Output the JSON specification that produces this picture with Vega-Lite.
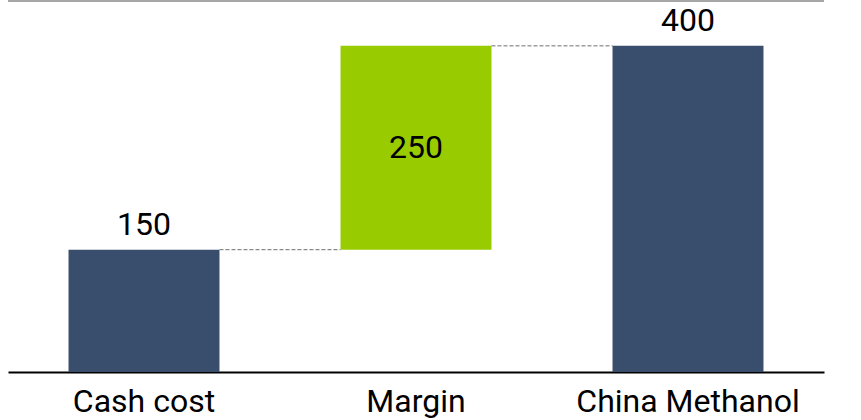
{
  "$schema": "https://vega.github.io/schema/vega-lite/v6.json",
  "width": 816,
  "height": 371,
  "autosize": {"type": "none"},
  "padding": {"left": 8, "top": 1, "right": 37, "bottom": 48},
  "background": "white",
  "config": {
    "view": {"stroke": null},
    "font": "Roboto",
    "axisX": {
      "labelFontSize": 32,
      "labelColor": "#000000",
      "labelFont": "Roboto",
      "labelLimit": 0,
      "ticks": false,
      "domainColor": "#000000",
      "domainWidth": 2,
      "labelPadding": 14,
      "labelAngle": 0,
      "grid": false
    }
  },
  "datasets": {
    "steps": [
      {"cat": "Cash cost", "start": 0, "end": 150, "type": "total", "label": "150"},
      {"cat": "Margin", "start": 150, "end": 400, "type": "delta", "label": "250"},
      {"cat": "China Methanol", "start": 0, "end": 400, "type": "total", "label": "400"}
    ],
    "links": [
      {"from": "Cash cost", "to": "Margin", "level": 150},
      {"from": "Margin", "to": "China Methanol", "level": 400}
    ]
  },
  "layer": [
    {
      "data": {"name": "steps"},
      "mark": {"type": "rule", "color": "#a6a6a6", "strokeWidth": 2},
      "encoding": {
        "y": {"datum": 455, "type": "quantitative", "axis": null}
      }
    },
    {
      "data": {"name": "steps"},
      "mark": {"type": "bar"},
      "encoding": {
        "x": {
          "field": "cat", "type": "nominal", "title": null,
          "scale": {"domain": ["Cash cost", "Margin", "China Methanol"], "paddingInner": 0.445, "paddingOuter": 0.2225}
        },
        "y": {"field": "start", "type": "quantitative", "axis": null, "scale": {"domain": [0, 455], "nice": false}},
        "y2": {"field": "end"},
        "color": {
          "field": "type", "type": "nominal", "legend": null,
          "scale": {"domain": ["total", "delta"], "range": ["#394e6d", "#99cc00"]}
        }
      }
    },
    {
      "data": {"name": "links"},
      "mark": {"type": "rule", "color": "#6e6e6e", "strokeWidth": 1, "strokeDash": [4, 2]},
      "encoding": {
        "x": {"field": "from", "type": "nominal", "bandPosition": 1, "title": null},
        "x2": {"field": "to", "bandPosition": 0},
        "y": {"field": "level", "type": "quantitative", "axis": null}
      }
    },
    {
      "data": {"name": "steps"},
      "transform": [{"filter": "datum.type === 'total'"}],
      "mark": {"type": "text", "fontSize": 32, "baseline": "bottom", "dy": -8, "color": "#000000"},
      "encoding": {
        "x": {"field": "cat", "type": "nominal", "title": null},
        "y": {"field": "end", "type": "quantitative", "axis": null},
        "text": {"field": "label"}
      }
    },
    {
      "data": {"name": "steps"},
      "transform": [
        {"filter": "datum.type === 'delta'"},
        {"fold": ["start", "end"], "as": ["edge", "val"]},
        {"aggregate": [{"op": "mean", "field": "val", "as": "mid"}], "groupby": ["cat", "label"]}
      ],
      "mark": {"type": "text", "fontSize": 32, "baseline": "middle", "color": "#000000"},
      "encoding": {
        "x": {"field": "cat", "type": "nominal", "title": null},
        "y": {"field": "mid", "type": "quantitative", "axis": null},
        "text": {"field": "label"}
      }
    }
  ]
}
